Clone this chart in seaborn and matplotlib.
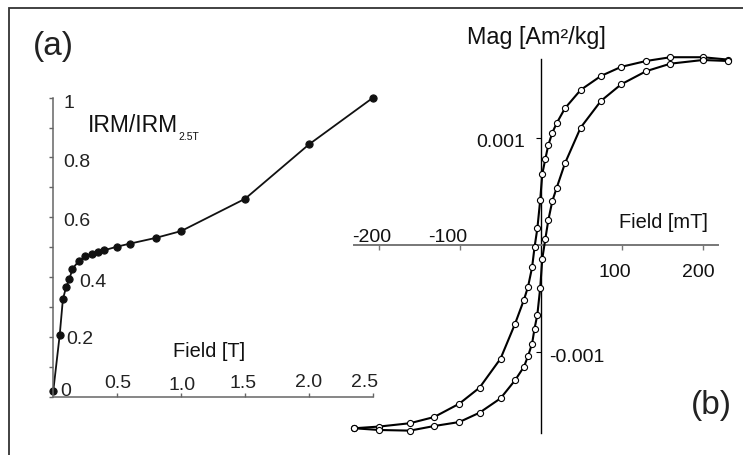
import numpy as np
import pandas as pd
import matplotlib
matplotlib.use("Agg")
import matplotlib.pyplot as plt
import seaborn as sns
from matplotlib.patches import Rectangle

# ---------------- data ----------------
# (a) IRM acquisition
irm_field = [0, 0.05, 0.075, 0.1, 0.125, 0.15, 0.2, 0.25, 0.3, 0.35, 0.4,
             0.5, 0.6, 0.8, 1.0, 1.5, 2.0, 2.5]
irm_norm = [0.02, 0.206, 0.326, 0.366, 0.392, 0.428, 0.454, 0.470, 0.477,
            0.483, 0.490, 0.502, 0.512, 0.531, 0.554, 0.662, 0.844, 1.0]
irm_yticks = [0, 0.1, 0.2, 0.3, 0.4, 0.5, 0.6, 0.7, 0.8, 0.9, 1.0]
irm_ylabels = {0: "0", 0.2: "0.2", 0.4: "0.4", 0.6: "0.6", 0.8: "0.8", 1.0: "1"}
irm_xticks = [0.5, 1.0, 1.5, 2.0, 2.5]
irm_xlabels = ["0.5", "1.0", "1.5", "2.0", "2.5"]

# (b) hysteresis loop
hyst_field = [-231, -200, -162, -132, -101, -76, -50, -32, -21, -16, -11, -8,
              -4.5, -1, 1.6, 5.3, 9, 14, 19.3, 29.6, 49, 74, 99, 130, 160, 200, 231]
hyst_upper = [-0.001708, -0.001692, -0.001661, -0.001603, -0.001479, -0.001330,
              -0.001059, -0.000733, -0.000509, -0.000388, -0.000208, -0.000021,
              0.000154, 0.000418, 0.000663, 0.000800, 0.00093, 0.001047,
              0.001134, 0.001274, 0.001445, 0.001575, 0.00166, 0.001715,
              0.00175, 0.00175, 0.001728]
hyst_lower = [-0.001708, -0.001724, -0.00173, -0.001687, -0.00165, -0.001563,
              -0.001429, -0.00126, -0.001134, -0.001034, -0.000919, -0.000779,
              -0.000649, -0.000401, -0.000127, 0.000053, 0.00023, 0.00041,
              0.000531, 0.000761, 0.001094, 0.001342, 0.001497, 0.00162,
              0.00169, 0.001724, 0.001715]
hyst_xticks = [-200, -100, 100, 200]
hyst_xlabels = ["-200", "-100", "100", "200"]
hyst_yticks = [0.001, -0.001]
hyst_ylabels = ["0.001", "-0.001"]

# ---------------- style ----------------
sns.set_style("white")
plt.rcParams["font.family"] = ["Liberation Sans", "DejaVu Sans"]
plt.rcParams["mathtext.default"] = "regular"

W, H = 743, 455
fig = plt.figure(figsize=(W / 100, H / 100), dpi=100)


def box(l, t, r, b):
    return [l / W, 1 - b / H, (r - l) / W, (b - t) / H]


# outer frame (only top/left visible)
fig.patches.append(Rectangle((9.3 / W, -0.2), 1.5, 1.2 - 8 / H,
                             transform=fig.transFigure, fill=False,
                             edgecolor="#333333", linewidth=1.3))

# ---------------- panel (a) ----------------
axA = fig.add_axes(box(53.3, 97.7, 373, 396.7))
axA.patch.set_alpha(0)
dfA = pd.DataFrame({"field": irm_field, "irm": irm_norm})
sns.lineplot(data=dfA, x="field", y="irm", ax=axA, color="#111111",
             linewidth=1.3, marker="o", markersize=5.2, markeredgecolor="#111111",
             markerfacecolor="#111111", estimator=None, sort=False, clip_on=False)
axA.set_xlim(0, 2.5)
axA.set_ylim(0, 1)
for s in ["top", "right"]:
    axA.spines[s].set_visible(False)
for s in ["left", "bottom"]:
    axA.spines[s].set_color("#666666")
    axA.spines[s].set_linewidth(1.1)
axA.set_xticks(irm_xticks)
axA.set_yticks(irm_yticks)
axA.set_xticklabels([])
axA.set_yticklabels([])
axA.tick_params(axis="x", direction="in", length=3, color="#666666", width=1)
axA.tick_params(axis="y", direction="out", length=3, color="#666666", width=1, left=True)
axA.tick_params(axis="x", bottom=True)
axA.set_xlabel("")
axA.set_ylabel("")

ylab_off = {0: (6.7, 1.1), 0.2: (13.4, -6.6), 0.4: (25.7, -9.6),
            0.6: (10, -8.7), 0.8: (10, -10), 1.0: (10, -10.3)}
for v, lab in irm_ylabels.items():
    dx, dy = ylab_off[v]
    axA.annotate(lab, xy=(0, v), xycoords="data", xytext=(dx, dy),
                 textcoords="offset pixels", ha="left", va="baseline",
                 fontsize=14, color="#222222", annotation_clip=False)
xlab_off = [(0.7, 9), (1, 6.7), (-2, 8.4), (-0.3, 10), (-8, 10)]
for v, lab, (dx, dy) in zip(irm_xticks, irm_xlabels, xlab_off):
    axA.annotate(lab, xy=(v, 0), xycoords="data", xytext=(dx, dy),
                 textcoords="offset pixels", ha="center", va="baseline",
                 fontsize=14, color="#222222", annotation_clip=False)

t_irm = fig.text(87.7 / W, 1 - 131.7 / H, "IRM/IRM", fontsize=16.5,
                 ha="left", va="baseline", color="#111111")
axA.annotate("2.5T", xy=(1, 0), xycoords=t_irm, xytext=(1, -3),
             textcoords="offset pixels", ha="left", va="baseline",
             fontsize=7.5, color="#111111")
fig.text(209.5 / W, 1 - 356.7 / H, "Field [T]", fontsize=14.4,
         ha="center", va="baseline", color="#111111")
fig.text(53.5 / W, 1 - 55 / H, "(a)", fontsize=24,
         ha="center", va="baseline", color="#222222")

# ---------------- panel (b) ----------------
x0_px, xs = 541.0, 0.809      # px at 0 mT, px per mT
y0_px, ys = 245.0, 107.3      # px at 0, px per 0.001
L, R, T, B = 330, 740, 30, 445
axB = fig.add_axes(box(L, T, R, B))
axB.patch.set_alpha(0)
axB.set_xlim((L - x0_px) / xs, (R - x0_px) / xs)
axB.set_ylim((y0_px - B) / ys * 1e-3, (y0_px - T) / ys * 1e-3)

for mag in (hyst_upper, hyst_lower):
    dfB = pd.DataFrame({"field": hyst_field, "mag": mag})
    sns.lineplot(data=dfB, x="field", y="mag", ax=axB, color="#000000",
                 linewidth=1.5, marker="o", markersize=4.4,
                 markerfacecolor="white", markeredgecolor="#000000",
                 markeredgewidth=0.8, estimator=None, sort=False,
                 clip_on=False, zorder=3)

for s in ["top", "right"]:
    axB.spines[s].set_visible(False)
axB.spines["left"].set_position(("data", 0))
axB.spines["bottom"].set_position(("data", 0))
axB.spines["left"].set_color("#000000")
axB.spines["left"].set_linewidth(1.0)
axB.spines["bottom"].set_color("#777777")
axB.spines["bottom"].set_linewidth(1.4)
axB.spines["bottom"].set_bounds(-231, 218.8)
axB.spines["left"].set_bounds(-0.001752, 0.001733)
axB.spines["left"].set_zorder(2)
axB.set_xticks(hyst_xticks)
axB.set_yticks(hyst_yticks)
axB.set_xticklabels([])
axB.set_yticklabels([])
axB.tick_params(axis="x", direction="out", length=3.5, color="#777777",
                width=1, bottom=True)
axB.tick_params(axis="y", direction="out", length=3.5, color="#000000",
                width=0.8, left=True)
axB.set_xlabel("")
axB.set_ylabel("")

bx_off = [(-8, 3.3), (-12, 3.3), (-7.3, -31.7), (-4.7, -31.7)]
for v, lab, (dx, dy) in zip(hyst_xticks, hyst_xlabels, bx_off):
    axB.annotate(lab, xy=(v, 0), xycoords="data", xytext=(dx, dy),
                 textcoords="offset pixels", ha="center", va="baseline",
                 fontsize=14, color="#111111", annotation_clip=False)
by_off = [(-16, -9, "right"), (8, -9.4, "left")]
for v, lab, (dx, dy, ha) in zip(hyst_yticks, hyst_ylabels, by_off):
    axB.annotate(lab, xy=(0, v), xycoords="data", xytext=(dx, dy),
                 textcoords="offset pixels", ha=ha, va="baseline",
                 fontsize=14, color="#111111", annotation_clip=False)

fig.text(663.5 / W, 1 - 228 / H, "Field [mT]", fontsize=14.4,
         ha="center", va="baseline", color="#111111")
fig.text(536.7 / W, 1 - 44.3 / H, "Mag [Am²/kg]", fontsize=16.8,
         ha="center", va="baseline", color="#111111")
fig.text(711.5 / W, 1 - 414.3 / H, "(b)", fontsize=24,
         ha="center", va="baseline", color="#222222")

fig.savefig("out.png", dpi=100)
